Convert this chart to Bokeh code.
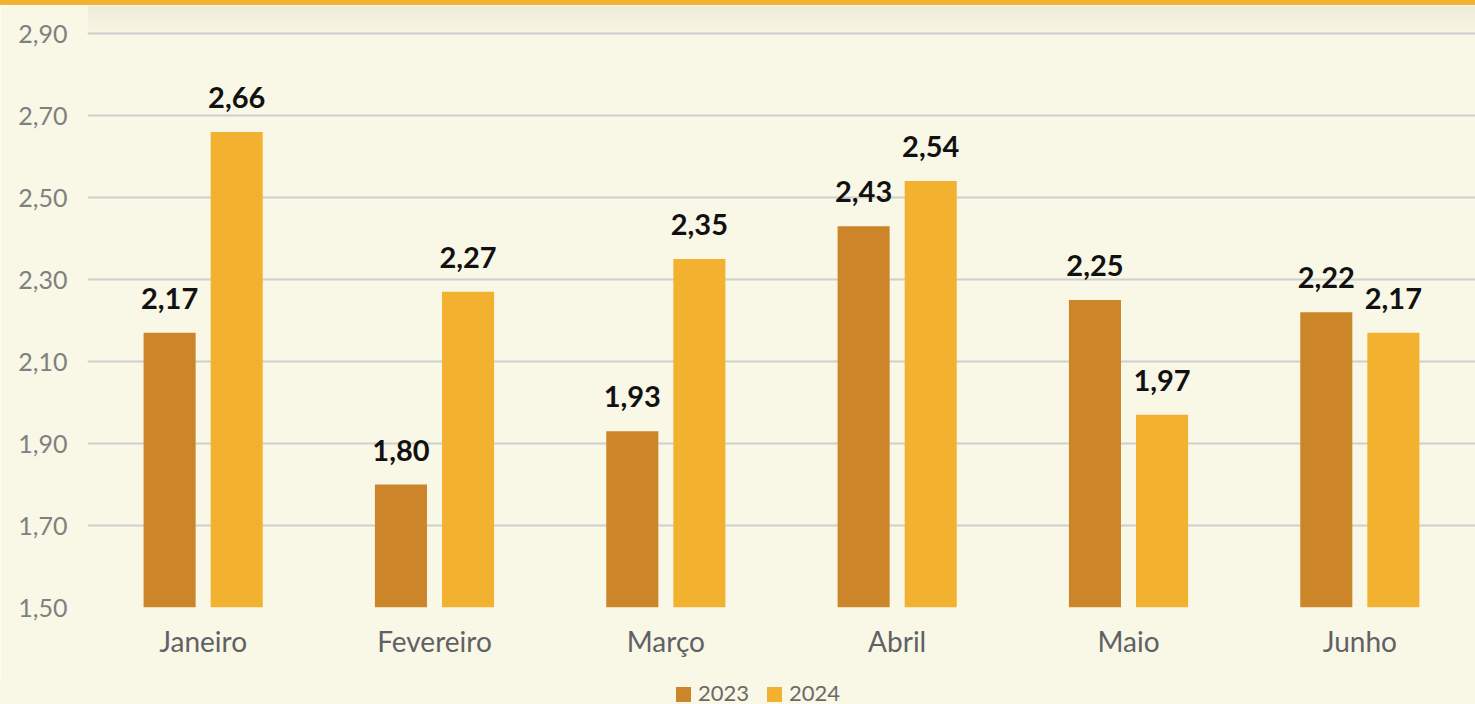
from bokeh.plotting import figure
from bokeh.layouts import column
from bokeh.models import (ColumnDataSource, FactorRange, FixedTicker, LabelSet,
                          BoxAnnotation, CustomJSTickFormatter, Div)
from bokeh.core.properties import value
from bokeh.transform import dodge
from bokeh.embed import file_html
from bokeh.resources import INLINE

months = ["Janeiro", "Fevereiro", "Março", "Abril", "Maio", "Junho"]
v2023 = [2.17, 1.80, 1.93, 2.43, 2.25, 2.22]
v2024 = [2.66, 2.27, 2.35, 2.54, 1.97, 2.17]
y_ticks = [1.50, 1.70, 1.90, 2.10, 2.30, 2.50, 2.70, 2.90]
series = ["2023", "2024"]

BG = "#F9F7E5"
C23 = "#CD8529"
C24 = "#F3B130"
colors = [C23, C24]

def fmt(v):
    return f"{v:.2f}".replace(".", ",")

src = ColumnDataSource(dict(
    m=months, a=v2023, b=v2024,
    la=[fmt(v) for v in v2023], lb=[fmt(v) for v in v2024],
))

PX = 0.2 / 82
y_top = 2.90 + 28 * PX

p = figure(x_range=FactorRange(*months), y_range=(1.50, y_top),
           frame_width=1388, frame_height=602, output_backend="svg", toolbar_location=None,
           min_border_left=87, min_border_right=0, min_border_top=0, min_border_bottom=74)
p.background_fill_color = BG
p.border_fill_color = BG
p.outline_line_color = None

p.vbar(x=dodge("m", -0.145, range=p.x_range), top="a", bottom=1.5, width=0.225,
       source=src, color=C23, line_color=None)
p.vbar(x=dodge("m", 0.145, range=p.x_range), top="b", bottom=1.5, width=0.225,
       source=src, color=C24, line_color=None)

for col, lab, off in (("a", "la", -0.145), ("b", "lb", 0.145)):
    ls = LabelSet(x=dodge("m", off, range=p.x_range), y=col, text=lab, source=src,
                  text_align="center", text_baseline="alphabetic", y_offset=24,
                  text_font=value("Lato"), text_font_style="bold", text_font_size="29px",
                  text_color="#111111")
    p.add_layout(ls)

# soft shading under the top strip
for i, a in enumerate([0.10, 0.08, 0.06, 0.04, 0.02]):
    p.add_layout(BoxAnnotation(bottom=y_top - 5.6 * (i + 1) * PX,
                               top=y_top - 5.6 * i * PX,
                               fill_color="#9a9a70", fill_alpha=a, line_color=None,
                               level="underlay"))

p.yaxis.ticker = FixedTicker(ticks=y_ticks)
p.yaxis.formatter = CustomJSTickFormatter(code="return tick.toFixed(2).replace('.', ',');")
p.yaxis.axis_line_color = None
p.yaxis.major_tick_line_color = None
p.yaxis.minor_tick_line_color = None
p.yaxis.major_tick_out = 0
p.yaxis.minor_tick_out = 0
p.yaxis.major_label_standoff = 20
p.yaxis.major_label_text_font = "Lato"
p.yaxis.major_label_text_font_size = "25px"
p.yaxis.major_label_text_color = "#7f8080"

p.xaxis.axis_line_color = None
p.xaxis.major_tick_line_color = None
p.xaxis.major_tick_out = 0
p.xaxis.major_label_standoff = 16
p.xaxis.major_label_text_font = "Lato"
p.xaxis.major_label_text_font_size = "28px"
p.xaxis.major_label_text_color = "#5f6264"

p.xgrid.grid_line_color = None
p.ygrid.grid_line_color = "#CFCFCF"
p.ygrid.grid_line_width = 2
p.ygrid.ticker = FixedTicker(ticks=y_ticks)

strip = Div(text="", width=1475, height=5, margin=0,
            styles={"background-color": "#F3B130"})

items_html = ""
for i, (name, c) in enumerate(zip(series, colors)):
    ml = "18px" if i > 0 else "0px"
    items_html += (f'<span style="display:inline-block;width:15px;height:15px;'
                   f'background:{c};margin-left:{ml};margin-right:7px;'
                   f'vertical-align:-1px"></span>'
                   f'<span>{name}</span>')
legend_html = (f'<div style="padding-left:676px;padding-top:1px;font-family:Lato;'
               f'font-size:22px;line-height:21px;color:#6a6a6a;white-space:nowrap">'
               f'{items_html}</div>')
legend_div = Div(text=legend_html, width=1475, height=23, margin=0,
                 styles={"background-color": BG, "overflow": "hidden"})

layout = column(strip, p, legend_div, spacing=0, margin=0)
open("out.html", "w").write(file_html(layout, INLINE))
